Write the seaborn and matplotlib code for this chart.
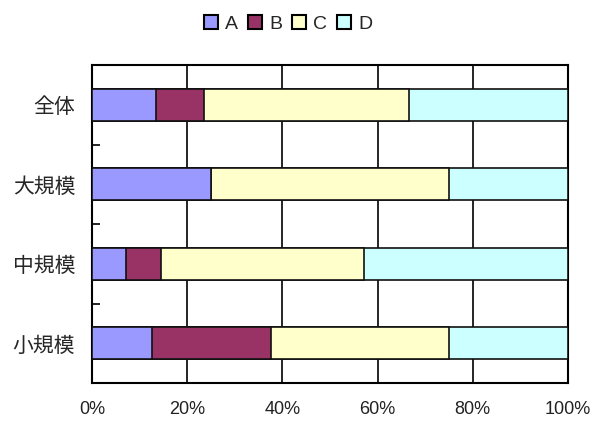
import numpy as np
import pandas as pd
import matplotlib
matplotlib.use("Agg")
import matplotlib.pyplot as plt
from matplotlib.patches import Patch
import seaborn as sns

sns.set_style("white")
plt.rcParams["font.family"] = ["Liberation Sans", "Noto Sans CJK JP", "DejaVu Sans"]

categories = ["全体", "大規模", "中規模", "小規模"]
series = ["A", "B", "C", "D"]
val_a = [13.4, 25.0, 7.1, 12.5]
val_b = [10.1, 0.0, 7.3, 25.0]
val_c = [43.0, 50.0, 42.8, 37.5]
val_d = [33.5, 25.0, 42.8, 25.0]
colors = ["#9999FF", "#993366", "#FFFFCC", "#CCFFFF"]
xticks = [0, 20, 40, 60, 80, 100]
xtick_labels = ["0%", "20%", "40%", "60%", "80%", "100%"]

df = pd.DataFrame({"cat": categories, "A": val_a, "B": val_b, "C": val_c, "D": val_d})
cum = df[series].cumsum(axis=1)

fig = plt.figure(figsize=(5.94, 4.21), dpi=100)
ax = fig.add_axes([92 / 594, 1 - 383 / 421, 476 / 594, 318 / 421])

# Stacked bars: draw cumulative totals from the outermost segment inward
for s, c in zip(reversed(series), reversed(colors)):
    sns.barplot(x=cum[s], y=df["cat"], orient="h", color=c, saturation=1,
                width=0.4, edgecolor="#111111", linewidth=1.2, ax=ax, zorder=3)

ax.set_xlim(0, 100)
ax.set_ylim(3.5, -0.5)
ax.set_xticks(xticks)
ax.set_xticklabels(xtick_labels, fontsize=13, color="#222222")
ax.tick_params(axis="x", length=0, pad=13)
ax.set_yticks(range(len(categories)))
ax.set_yticklabels(categories, fontsize=15, family=["Noto Sans CJK JP", "DejaVu Sans"])
ax.tick_params(axis="y", length=0, pad=12)
ax.set_yticks([0.5, 1.5, 2.5], minor=True)
ax.tick_params(axis="y", which="minor", left=True, direction="in", length=6,
               width=1.2, color="black")
ax.set_xlabel("")
ax.set_ylabel("")

ax.grid(False)
for x in xticks[1:-1]:
    ax.axvline(x, color="black", linewidth=1.2, zorder=1)
for sp in ax.spines.values():
    sp.set_visible(True)
    sp.set_color("black")
    sp.set_linewidth(1.5)

handles = [Patch(facecolor=c, edgecolor="black", linewidth=1.5) for c in colors]
fig.legend(handles, series, loc="center", bbox_to_anchor=(288 / 594, 1 - 24 / 421),
           ncol=4, frameon=False, fontsize=14, handlelength=0.75, handleheight=0.75,
           handletextpad=0.35, columnspacing=0.5)

fig.savefig("out.png", dpi=100)
